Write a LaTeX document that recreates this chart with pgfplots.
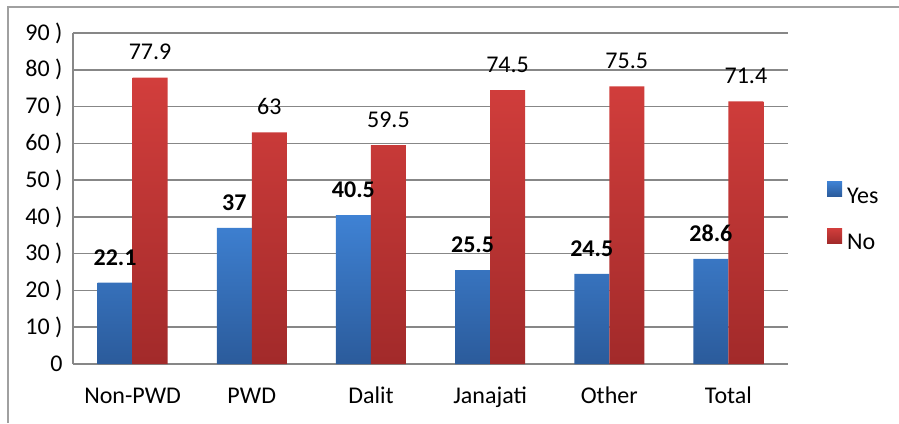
\documentclass[border=0pt]{standalone}
\usepackage{fontspec}
\setmainfont{Carlito}
\usepackage{pgfplots}
\pgfplotsset{compat=1.18}
\definecolor{gridgray}{HTML}{878787}
\definecolor{framegray}{HTML}{A0A0A0}
\definecolor{yestop}{HTML}{3F82D4}
\definecolor{yesbot}{HTML}{2B5B9B}
\definecolor{notop}{HTML}{D23E3C}
\definecolor{nobot}{HTML}{A22A2A}

\begin{document}
\begin{tikzpicture}[x=1pt, y=1pt, font=\fontsize{24}{28}\selectfont]
\useasboundingbox (-73,-59) rectangle (826,364);
% outer chart frame (left and top edges only)
\draw[framegray, line width=1.2pt] (-65,-59) -- (-65,357) -- (826,357);
\begin{axis}[
  at={(0,0)}, anchor=south west,
  scale only axis, width=715pt, height=331pt,
  ybar=0pt, bar width=35pt,
  xmin=-0.5, xmax=5.5, ymin=0, ymax=90,
  xtick={0,...,5},
  xticklabels={Non-PWD,PWD,Dalit,Janajati,Other,Total},
  ytick={0,10,...,90},
  yticklabels={{0},{10 )},{20 )},{30 )},{40 )},{50 )},{60 )},{70 )},{80 )},{90 )}},
  axis x line*=bottom, axis y line*=left,
  axis line style={gridgray, line width=1.5pt},
  major tick length=0pt,
  ymajorgrids, grid style={gridgray, line width=1.5pt},
  xticklabel style={text height=16pt, text depth=5pt, yshift=-20pt},
  yticklabel style={xshift=-7pt},
  /pgf/number format/assume math mode=true,
  nodes near coords,
  every node near coord/.append style={yshift=14pt},
  legend cell align=left,
  legend style={at={(axis description cs:1,0.441)}, anchor=west, xshift=39pt,
    draw=none, fill=none, inner sep=0pt, row sep=20pt, column sep=5pt,
    nodes={inner sep=0pt, text height=16pt, text depth=5pt}},
  legend image code/.code={\fill[#1] (0pt,1pt) rectangle (15pt,16pt);},
]
\addplot[draw=none, top color=yestop, bottom color=yesbot,
  every node near coord/.append style={font=\fontsize{24}{28}\selectfont\bfseries}]
  coordinates {(0,22.1) (1,37) (2,40.5) (3,25.5) (4,24.5) (5,28.6)};
\addlegendentry{Yes}
\addplot[draw=none, top color=notop, bottom color=nobot]
  coordinates {(0,77.9) (1,63) (2,59.5) (3,74.5) (4,75.5) (5,71.4)};
\addlegendentry{No}
\end{axis}
\end{tikzpicture}
\end{document}
